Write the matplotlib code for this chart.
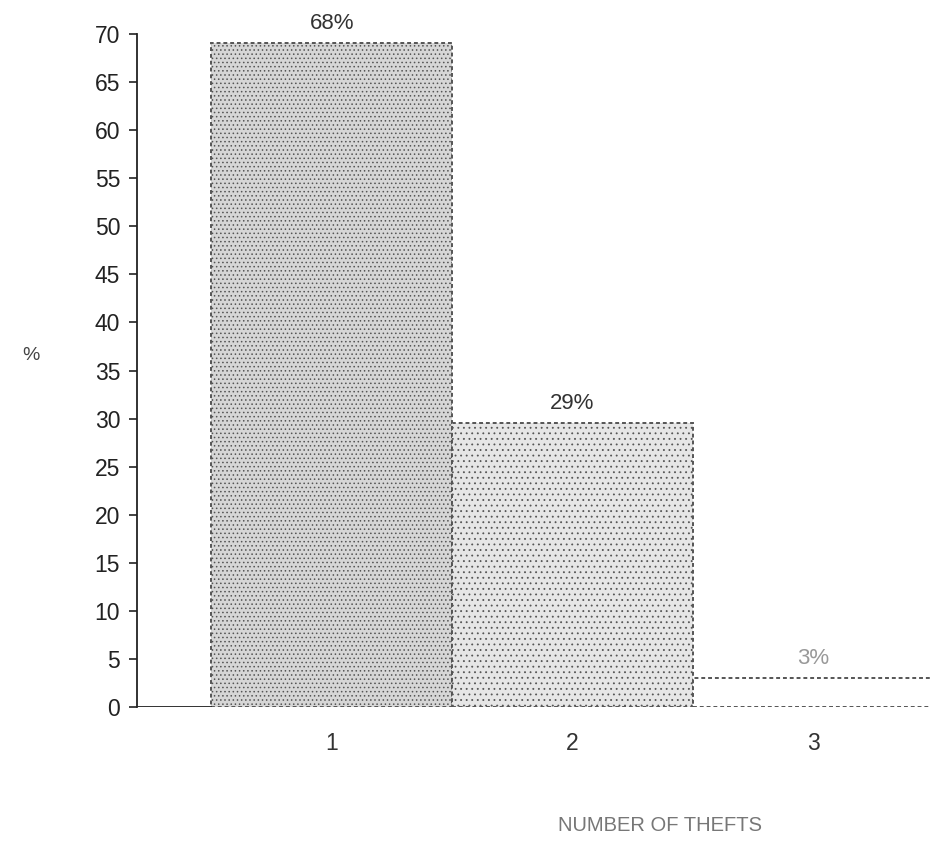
import matplotlib
matplotlib.use("Agg")
import matplotlib.pyplot as plt

# data
thefts = [1, 2, 3]
heights = [69, 29.5, 3]
bar_labels = ["68%", "29%", "3%"]
y_ticks = list(range(0, 75, 5))

plt.rcParams["font.family"] = ["Liberation Sans", "DejaVu Sans"]
plt.rcParams["hatch.linewidth"] = 0.6

fig = plt.figure(figsize=(9.31, 8.47), dpi=100)
ax = fig.add_axes([0.147, 0.165, 0.853, 0.795])

fills = ["#d6d6d6", "#e6e6e6", "white"]
hatches = ["....", "...", None]
for x, h, fc, ht in zip(thefts, heights, fills, hatches):
    ax.bar(x, h, width=1.0, facecolor=fc, edgecolor="#555555",
           linewidth=1.4, linestyle=(0, (2, 1.5)), hatch=ht)

for x, h, lab in zip(thefts, heights, bar_labels):
    color = "#999999" if lab == "3%" else "#333333"
    ax.text(x, h + 1.0, lab, ha="center", va="bottom", fontsize=16,
            color=color, clip_on=False)

ax.set_xlim(0.19, 3.49)
ax.set_ylim(0, 70)
ax.set_yticks(y_ticks)
ax.set_xticks(thefts)
ax.set_xticklabels([str(t) for t in thefts])
for lbl in ax.get_xticklabels()[2:]:
    lbl.set_color("#aaaaaa")

ax.spines["top"].set_visible(False)
ax.spines["right"].set_visible(False)
ax.spines["bottom"].set_visible(False)
ax.spines["left"].set_color("#222222")
ax.spines["left"].set_linewidth(1.3)
# solid baseline only up to the first bar
ax.axhline(0, xmin=0, xmax=(0.5 - 0.19) / (3.49 - 0.19), color="#222222", lw=1.3)

ax.tick_params(axis="y", direction="out", length=6, width=1.2,
               labelsize=16.5, colors="#222222", pad=6)
ax.tick_params(axis="x", length=0, labelsize=16.5, colors="#333333", pad=18)

fig.text(0.024, 0.58, "%", fontsize=14, color="#444444", ha="left", va="center")
fig.text(0.709, 0.025, "NUMBER OF THEFTS", fontsize=14.5, color="#777777",
         ha="center", va="center")

fig.savefig("out.png", dpi=100)
